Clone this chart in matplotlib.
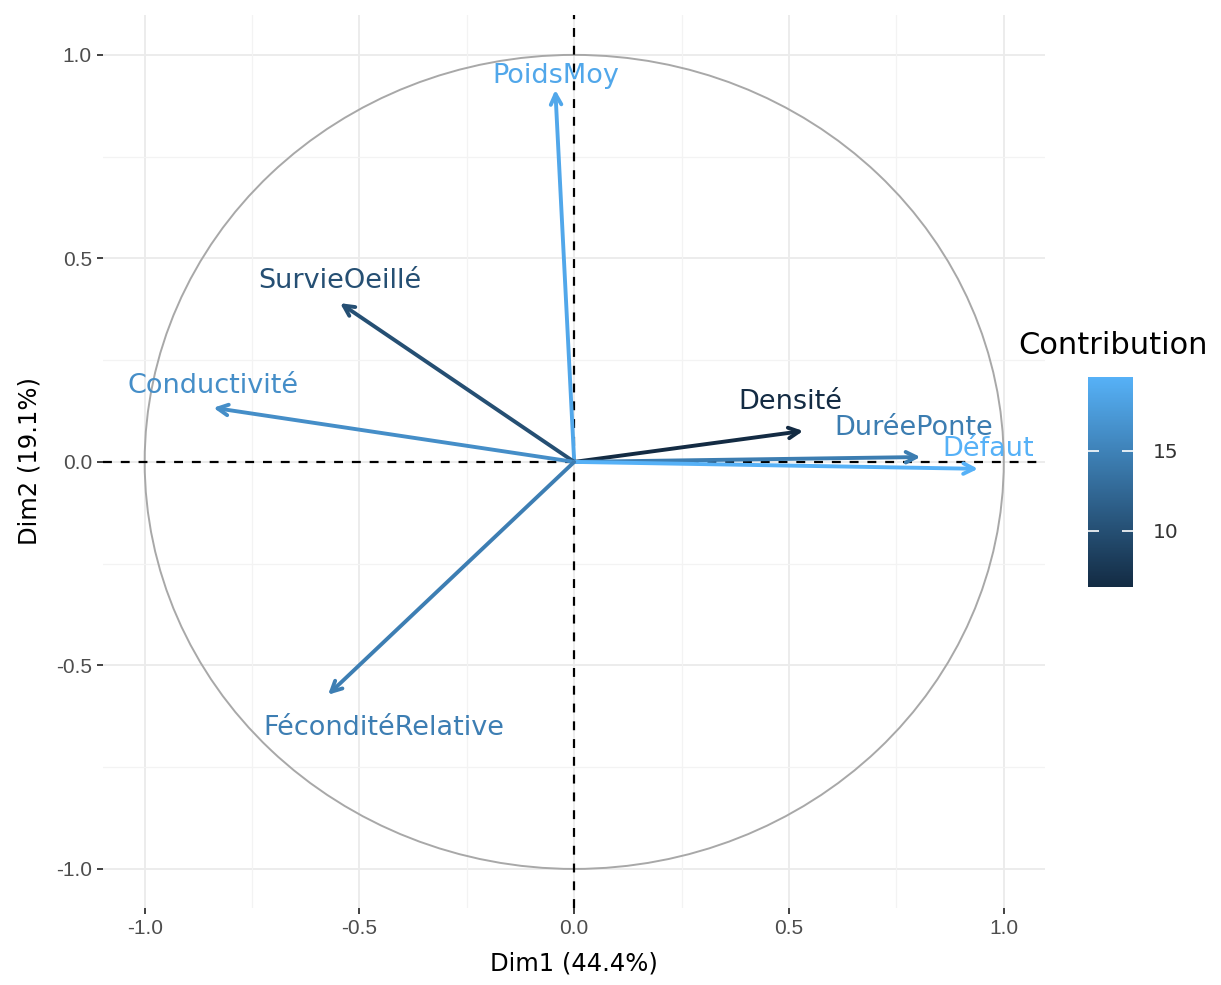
import numpy as np
import matplotlib
matplotlib.use("Agg")
import matplotlib.pyplot as plt
from matplotlib.colors import LinearSegmentedColormap, Normalize
from matplotlib.patches import Circle

# ---- data ----
variables = ["PoidsMoy", "SurvieOeillé", "Conductivité", "Densité",
             "DuréePonte", "Défaut", "FéconditéRelative"]
dim1 = [-0.044, -0.545, -0.840, 0.533, 0.806, 0.940, -0.573]
dim2 = [0.914, 0.390, 0.133, 0.076, 0.012, -0.017, -0.572]
contrib = [18.6, 10.0, 16.2, 6.5, 14.5, 19.6, 14.6]
xlabel = "Dim1 (44.4%)"
ylabel = "Dim2 (19.1%)"
ticks = [-1.0, -0.5, 0.0, 0.5, 1.0]
cbar_ticks = [10, 15]

# label offsets in points (position style)
label_off = [(0, 10), (0, 16), (0, 16), (-9, 21), (-5, 21), (7, 14), (40, -24)]

cmap = LinearSegmentedColormap.from_list("gg", ["#132B43", "#56B1F7"])
norm = Normalize(vmin=min(contrib), vmax=max(contrib))

fig = plt.figure(figsize=(12.21, 9.85), dpi=100)
ax = fig.add_axes([103/1221, 1-908/985, (1045-103)/1221, (908-15)/985])
ax.set_xlim(-1.097, 1.096)
ax.set_ylim(-1.096, 1.098)

# grid
for v in [-1, -0.5, 0, 0.5, 1]:
    ax.axvline(v, color="#EBEBEB", lw=1.3, zorder=0)
    ax.axhline(v, color="#EBEBEB", lw=1.3, zorder=0)
for v in [-0.75, -0.25, 0.25, 0.75]:
    ax.axvline(v, color="#F3F3F3", lw=0.9, zorder=0)
    ax.axhline(v, color="#F3F3F3", lw=0.9, zorder=0)

ax.add_patch(Circle((0, 0), 1.0, fill=False, ec="#A8A8A8", lw=1.4, zorder=1))
ax.axhline(0, color="black", ls=(0, (4, 4)), lw=1.6, zorder=2)
ax.axvline(0, color="black", ls=(0, (4, 4)), lw=1.6, zorder=2)

for name, x, y, c, off in zip(variables, dim1, dim2, contrib, label_off):
    col = cmap(norm(c))
    ax.annotate("", xy=(x, y), xytext=(0, 0),
                arrowprops=dict(arrowstyle="->,head_length=0.75,head_width=0.38",
                                color=col, lw=2.8, shrinkA=0, shrinkB=0),
                zorder=3)
    ax.annotate(name, xy=(x, y), xytext=off, textcoords="offset points",
                ha="center", va="center", color=col, fontsize=19.5,
                family="DejaVu Sans", zorder=4)

for s in ax.spines.values():
    s.set_visible(False)
ax.set_xticks(ticks)
ax.set_yticks(ticks)
ax.set_xticklabels([f"{t:.1f}" for t in ticks], family="Liberation Sans", fontsize=15, color="#4D4D4D")
ax.set_yticklabels([f"{t:.1f}" for t in ticks], family="Liberation Sans", fontsize=15, color="#4D4D4D")
ax.tick_params(length=4, width=1.3, color="#333333", pad=4)
ax.set_xlabel(xlabel, fontsize=17.5, family="DejaVu Sans", labelpad=10)
ax.set_ylabel(ylabel, fontsize=17.5, family="DejaVu Sans", labelpad=10)

# colorbar
cax = fig.add_axes([1088/1221, 1-587/985, 45/1221, 210/985])
sm = plt.cm.ScalarMappable(cmap=cmap, norm=norm)
cb = fig.colorbar(sm, cax=cax)
cb.outline.set_visible(False)
cb.set_ticks(cbar_ticks)
cax.tick_params(which="both", direction="in", color="white", length=8, width=1.2,
                left=True, right=True, labelsize=14.5, pad=14)
for lab in cax.get_yticklabels():
    lab.set_family("DejaVu Sans")
    lab.set_color("#333333")
fig.text(1018/1221, 1-345/985, "Contribution", fontsize=22, family="DejaVu Sans",
         va="center", ha="left")

fig.savefig("out.png", dpi=100)
